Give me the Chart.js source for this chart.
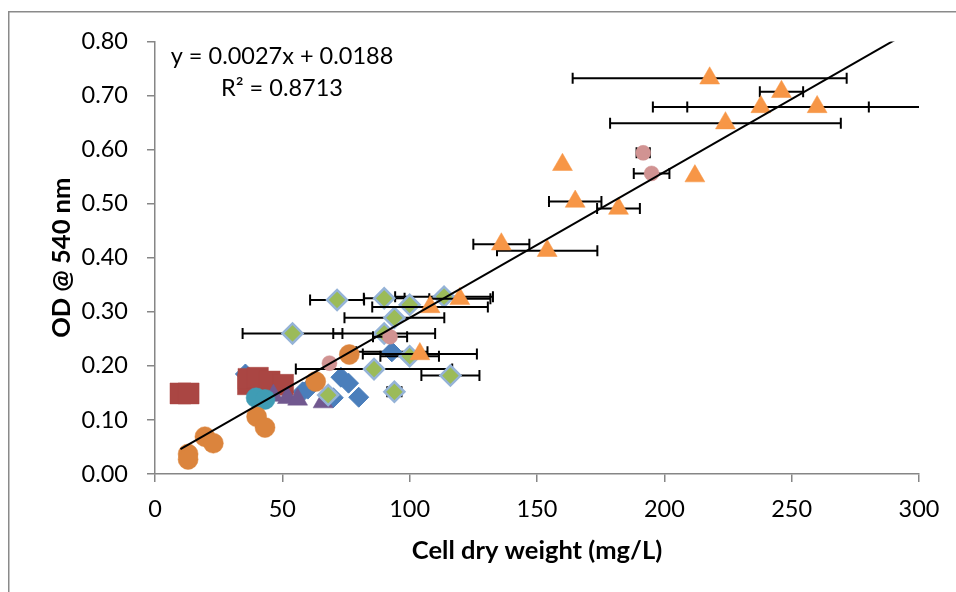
<!DOCTYPE html>
<html>
<head>
<meta charset="utf-8">
<script src="https://cdn.jsdelivr.net/npm/chart.js@4.4.1/dist/chart.umd.min.js"></script>
<style>
  html, body { margin: 0; padding: 0; background: #fff; }
  #wrap { position: relative; width: 956px; height: 592px; }
</style>
</head>
<body>
<div id="wrap"><canvas id="c" width="956" height="592"></canvas></div>
<script>
// ---- Data ----
const xTicks = [0, 50, 100, 150, 200, 250, 300];
const yTicks = [0, 0.1, 0.2, 0.3, 0.4, 0.5, 0.6, 0.7, 0.8];

const blueX   = [35.5, 58, 60, 70, 73, 76, 80, 93];
const blueY   = [0.185, 0.152, 0.157, 0.141, 0.179, 0.168, 0.142, 0.226];
const blueErr = [0, 0, 0, 0, 0, 0, 0, 14];

const redX = [10, 13.2, 36.5, 36.7, 40.4, 45, 50.3];
const redY = [0.149, 0.149, 0.166, 0.176, 0.178, 0.171, 0.165];

const purpleX = [46.5, 52, 56, 66];
const purpleY = [0.145, 0.141, 0.138, 0.133];

const tealX = [39.7, 43.2];
const tealY = [0.141, 0.138];

const greenX   = [71.5, 90, 113.5, 100, 94, 54, 90, 100, 86, 116, 94, 68];
const greenY   = [0.322, 0.325, 0.328, 0.313, 0.289, 0.260, 0.260, 0.218, 0.194, 0.182, 0.152, 0.146];
const greenErr = [10.6, 8, 19.2, 0, 19.6, 19.6, 20, 11.5, 30.7, 11.4, 2.8, 0];

const orangeCX = [13, 13, 19.6, 22.9, 39.9, 43.2, 63.1, 76.3];
const orangeCY = [0.037, 0.027, 0.069, 0.057, 0.106, 0.086, 0.171, 0.221];

const pinkX   = [68.5, 92.3, 191.7, 195];
const pinkY   = [0.205, 0.254, 0.594, 0.556];
const pinkErr = [0, 6.7, 2.6, 7];

const triX   = [217.8, 246, 237.9, 260, 224, 160, 212, 165, 182, 136, 154, 108, 119.7, 104];
const triY   = [0.732, 0.707, 0.679, 0.679, 0.649, 0.572, 0.551, 0.504, 0.491, 0.425, 0.413, 0.309, 0.324, 0.222];
const triErr = [53.8, 8.5, 42.4, 51, 45.3, 0, 0, 10.3, 8.4, 11, 19.7, 22.7, 12, 22.4];

const trendX = [10, 291.3];
const trendY = [0.0458, 0.805];
const equationText = 'y = 0.0027x + 0.0188';
const r2Text = 'R\u00B2 = 0.8713';

const pts = (xs, ys) => xs.map((v, i) => ({ x: v, y: ys[i] }));

const FONT = 'Lato, "Open Sans", sans-serif';
const AXIS_GRAY = '#868686';

const errorBars = {
  id: 'errorBars',
  beforeDatasetDraw(chart, args) {
    const ds = chart.data.datasets[args.index];
    if (!ds.xErr) return;
    const { ctx, chartArea: ca, scales: { x, y } } = chart;
    ctx.save();
    ctx.beginPath();
    ctx.rect(ca.left, ca.top - 10, ca.width, ca.height + 20);
    ctx.clip();
    ctx.strokeStyle = '#000';
    ctx.lineWidth = 2;
    ds.data.forEach((p, i) => {
      const e = ds.xErr[i];
      if (!e) return;
      const py = y.getPixelForValue(p.y);
      const x1 = x.getPixelForValue(p.x - e);
      const x2 = x.getPixelForValue(p.x + e);
      ctx.beginPath();
      ctx.moveTo(x1, py); ctx.lineTo(x2, py);
      ctx.moveTo(x1, py - 5.5); ctx.lineTo(x1, py + 5.5);
      ctx.moveTo(x2, py - 5.5); ctx.lineTo(x2, py + 5.5);
      ctx.stroke();
    });
    ctx.restore();
  }
};

const extras = {
  id: 'extras',
  afterDraw(chart) {
    const { ctx } = chart;
    ctx.save();
    ctx.strokeStyle = '#8a8a8a';
    ctx.lineWidth = 1.5;
    ctx.strokeRect(8.75, 11.75, 1200, 1200);
    ctx.fillStyle = '#000';
    ctx.font = '23.5px ' + FONT;
    ctx.textAlign = 'center';
    ctx.textBaseline = 'middle';
    ctx.fillText(equationText, 282, 56);
    ctx.fillText(r2Text, 282, 88.5);
    ctx.restore();
  }
};

new Chart(document.getElementById('c'), {
  type: 'scatter',
  data: {
    datasets: [
      { label: 'trend', type: 'line', data: pts(trendX, trendY), borderColor: '#000', borderWidth: 2,
        pointRadius: 0, fill: false, order: 0 },
      { label: 'A', data: pts(blueX, blueY), xErr: blueErr, pointStyle: 'rectRot', pointRadius: 10,
        backgroundColor: '#4A7EBB', borderColor: '#4A7EBB', borderWidth: 1, order: 9 },
      { label: 'B', data: pts(redX, redY), pointStyle: 'rect', pointRadius: 14.8,
        backgroundColor: '#AA4643', borderColor: '#AA4643', borderWidth: 0.5, order: 8 },
      { label: 'D', data: pts(purpleX, purpleY), pointStyle: 'triangle', pointRadius: 11.5,
        backgroundColor: '#71588F', borderColor: '#71588F', borderWidth: 0.5, order: 7 },
      { label: 'E', data: pts(tealX, tealY), pointStyle: 'circle', pointRadius: 10,
        backgroundColor: '#3F9CB4', borderColor: '#3F9CB4', borderWidth: 0.5, order: 6 },
      { label: 'C', data: pts(greenX, greenY), xErr: greenErr, pointStyle: 'rectRot', pointRadius: 10,
        backgroundColor: '#9BBB59', borderColor: '#95B3D7', borderWidth: 2.5, order: 5 },
      { label: 'F', data: pts(orangeCX, orangeCY), pointStyle: 'circle', pointRadius: 10,
        backgroundColor: '#DB843D', borderColor: '#DB843D', borderWidth: 0.5, order: 4 },
      { label: 'G', data: pts(pinkX, pinkY), xErr: pinkErr, pointStyle: 'circle', pointRadius: 7.5,
        backgroundColor: '#D19392', borderColor: '#D19392', borderWidth: 0.5, order: 3 },
      { label: 'H', data: pts(triX, triY), xErr: triErr, pointStyle: 'triangle', pointRadius: 11.5,
        backgroundColor: '#F79646', borderColor: '#F79646', borderWidth: 0.5, order: 2 }
    ]
  },
  options: {
    responsive: false,
    animation: false,
    events: [],
    layout: { padding: { top: 41.5, right: 37, left: 0, bottom: 0 } },
    plugins: { legend: { display: false }, tooltip: { enabled: false } },
    elements: { line: { tension: 0 } },
    scales: {
      x: {
        type: 'linear', min: 0, max: 300,
        afterBuildTicks: (s) => { s.ticks = xTicks.map(v => ({ value: v })); },
        afterFit: (s) => { s.height = 118; },
        ticks: { color: '#000', font: { family: FONT, size: 23.5 }, padding: 13.5,
          callback: (v) => String(v) },
        grid: { display: true, drawOnChartArea: false, drawTicks: true, tickLength: 8,
          color: AXIS_GRAY, tickColor: AXIS_GRAY, lineWidth: 1.5 },
        border: { display: true, color: AXIS_GRAY, width: 1.5 },
        title: { display: true, text: 'Cell dry weight (mg/L)', color: '#000',
          font: { family: FONT, size: 25.5, weight: 'bold' }, padding: { top: 0, bottom: 25.5 } }
      },
      y: {
        type: 'linear', min: 0, max: 0.8,
        afterBuildTicks: (s) => { s.ticks = yTicks.map(v => ({ value: v })); },
        afterFit: (s) => { s.width = 155; },
        ticks: { color: '#000', font: { family: FONT, size: 23.5 }, padding: 19,
          callback: (v) => Number(v).toFixed(2) },
        grid: { display: true, drawOnChartArea: false, drawTicks: true, tickLength: 8,
          color: AXIS_GRAY, tickColor: AXIS_GRAY, lineWidth: 1.5 },
        border: { display: true, color: AXIS_GRAY, width: 1.5 },
        title: { display: true, text: 'OD @ 540 nm', color: '#000',
          font: { family: FONT, size: 25.5, weight: 'bold' }, padding: { top: 46.5, bottom: 0 } }
      }
    }
  },
  plugins: [errorBars, extras]
});
</script>
</body>
</html>
